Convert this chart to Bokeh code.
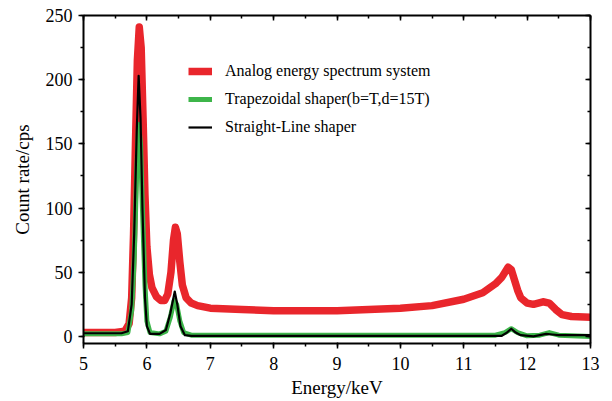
from bokeh.plotting import figure
from bokeh.models import (Range1d, LinearAxis, SingleIntervalTicker, Legend, LegendItem)
from bokeh.embed import file_html
from bokeh.resources import INLINE

# ---- data ----
red_x = [5.0, 5.5, 5.65, 5.72, 5.76, 5.79, 5.82, 5.85, 5.88, 5.91, 5.94, 5.97, 6.0,
         6.04, 6.08, 6.15, 6.22, 6.28, 6.33, 6.38, 6.42, 6.45, 6.48, 6.52, 6.56, 6.62,
         6.7, 6.8, 7.0, 7.5, 8.0, 8.5, 9.0, 9.5, 10.0, 10.5, 11.0, 11.3, 11.5, 11.6,
         11.7, 11.75, 11.8, 11.85, 11.9, 12.0, 12.1, 12.25, 12.35, 12.45, 12.55, 12.7, 13.0]
red_y = [3, 3, 4, 10, 30, 80, 150, 215, 241, 225, 170, 110, 70,
         48, 38, 31, 28, 28, 33, 50, 75, 85, 80, 58, 40, 30,
         26, 24, 22, 21, 20, 20, 20, 21, 22, 24, 29, 34, 41, 46,
         54, 52, 44, 36, 30, 26, 25, 27, 26, 21, 17, 15.5, 15]

green_x = [5.0, 5.6, 5.7, 5.76, 5.8, 5.84, 5.87, 5.9, 5.93, 5.97, 6.0, 6.05, 6.2,
           6.3, 6.37, 6.43, 6.47, 6.52, 6.58, 6.7, 11.5, 11.65, 11.75, 11.85, 12.0,
           12.2, 12.35, 12.5, 13.0]
green_y = [2, 2, 3, 20, 60, 130, 165, 150, 100, 40, 12, 3, 2,
           4, 15, 28, 25, 12, 3, 1, 1, 3, 6, 3, 0.5,
           1, 3, 1, 0]

black_x = [5.0, 5.6, 5.7, 5.76, 5.8, 5.84, 5.87, 5.9, 5.93, 5.97, 6.0, 6.05, 6.2,
           6.3, 6.37, 6.44, 6.48, 6.53, 6.6, 6.7, 11.6, 11.68, 11.75, 11.82, 11.9,
           12.1, 12.3, 12.4, 12.5, 13.0]
black_y = [2.5, 2.5, 4, 25, 80, 160, 203, 170, 100, 30, 8, 2, 2,
           5, 18, 35, 25, 8, 1, 0.5, 0.5, 3, 6, 3, 1,
           0, 2, 1.5, 1, 1]

labels = ["Analog energy spectrum system",
          "Trapezoidal shaper(b=T,d=15T)",
          "Straight-Line shaper"]

FONT = "Liberation Serif"

p = figure(width=606, height=400, output_backend="svg", toolbar_location=None,
           x_range=Range1d(5, 13), y_range=Range1d(-5.5, 250),
           min_border_left=83, min_border_right=16, min_border_top=15, min_border_bottom=55,
           background_fill_color="white", border_fill_color="white")
p.outline_line_color = None
p.xgrid.visible = False
p.ygrid.visible = False

r_red = p.line(red_x, red_y, line_color="#e9262c", line_width=7.5, line_join="round")
r_green = p.line(green_x, green_y, line_color="#3db54a", line_width=5, line_join="round")
r_black = p.line(black_x, black_y, line_color="black", line_width=2.2, line_join="round")

xt = SingleIntervalTicker(interval=1, num_minor_ticks=2)
yt = SingleIntervalTicker(interval=50, num_minor_ticks=2)

def style(ax, ticker, label_size="18px", show_labels=True, inward=False):
    ax.ticker = ticker
    ax.axis_line_width = 2
    ax.axis_line_color = "black"
    ax.major_tick_line_color = "black"
    ax.minor_tick_line_color = "black"
    ax.major_tick_line_width = 1.5
    ax.minor_tick_line_width = 1.5
    if inward:
        ax.major_tick_in, ax.major_tick_out = 5, 0
        ax.minor_tick_in, ax.minor_tick_out = 3, 0
    else:
        ax.major_tick_in, ax.major_tick_out = 1, 5
        ax.minor_tick_in, ax.minor_tick_out = 0, 3
    ax.major_label_text_font = FONT
    ax.major_label_text_font_size = label_size
    ax.major_label_text_color = "black" if show_labels else None
    ax.axis_label_text_font = FONT
    ax.axis_label_text_color = "black"
    ax.axis_label_text_font_style = "normal"
    ax.axis_label_text_font_size = "19px"

xa = p.xaxis[0]
ya = p.yaxis[0]
style(xa, xt)
style(ya, yt)
xa.axis_label = "Energy/keV"
ya.axis_label = "Count rate/cps"
xa.major_label_standoff = 8
ya.major_label_standoff = 6
xa.axis_label_standoff = 4
ya.axis_label_standoff = 10

top = LinearAxis()
right = LinearAxis()
style(top, SingleIntervalTicker(interval=1, num_minor_ticks=2), "1px", False, True)
style(right, SingleIntervalTicker(interval=50, num_minor_ticks=2), "1px", False, True)
p.add_layout(top, "above")
p.add_layout(right, "right")

legend = Legend(items=[LegendItem(label=labels[0], renderers=[r_red]),
                       LegendItem(label=labels[1], renderers=[r_green]),
                       LegendItem(label=labels[2], renderers=[r_black])],
                location=(105, 206), orientation="vertical",
                border_line_color=None, background_fill_alpha=0,
                label_text_font=FONT, label_text_font_size="16px",
                label_text_color="black",
                glyph_width=24, glyph_height=20, label_standoff=13,
                spacing=8, padding=0, margin=0)
p.add_layout(legend, "center")

open("out.html", "w").write(file_html(p, INLINE))
